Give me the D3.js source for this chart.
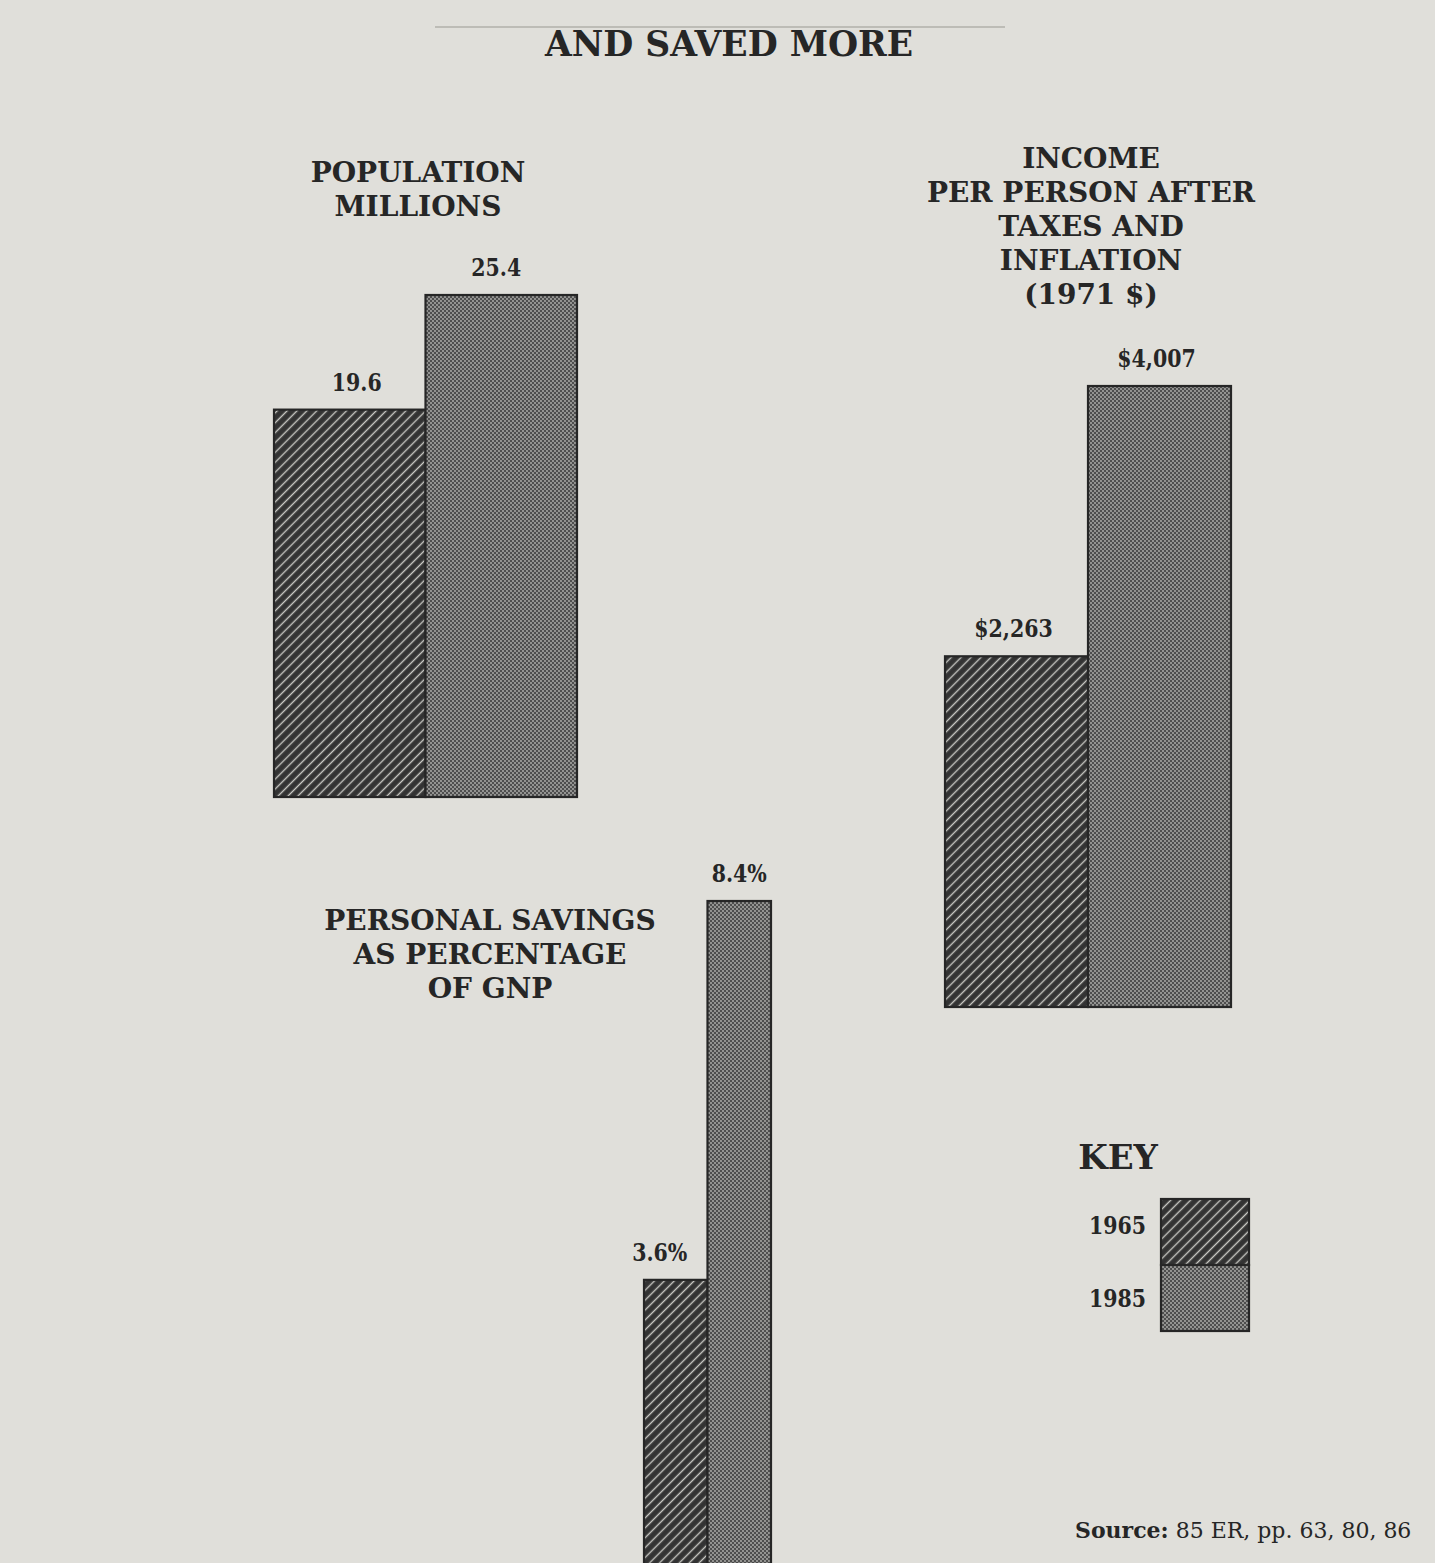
<!DOCTYPE html>
<html>
<head>
<meta charset="utf-8">
<script src="https://cdn.jsdelivr.net/npm/d3@7"></script>
<style>
  html, body { margin: 0; padding: 0; background: #e0dfda; }
  svg { display: block; }
  text { font-family: "DejaVu Serif", "Liberation Serif", serif; fill: #262626; }
</style>
</head>
<body>
<svg id="chart" width="1435" height="1563"></svg>
<script>
// Years compared in every panel
const years = ["1965", "1985"];

// Population, millions
const population = [19.6, 25.4];
const populationLabels = ["19.6", "25.4"];

// Income per person after taxes and inflation, 1971 dollars
const income = [2263, 4007];
const incomeLabels = ["$2,263", "$4,007"];

// Personal savings as a percentage of GNP
const savings = [3.6, 8.4];
const savingsLabels = ["3.6%", "8.4%"];

// Panel titles
const populationTitle = ["POPULATION", "MILLIONS"];
const incomeTitle = ["INCOME", "PER PERSON AFTER", "TAXES AND", "INFLATION", "(1971 $)"];
const savingsTitle = ["PERSONAL SAVINGS", "AS PERCENTAGE", "OF GNP"];

const svg = d3.select("#chart");
const ink = "#262626";

// Fill patterns: dark diagonal hatch for 1965, dot screen for 1985
const defs = svg.append("defs");
const hatch = defs.append("pattern")
  .attr("id", "hatch").attr("patternUnits", "userSpaceOnUse")
  .attr("width", 7).attr("height", 7)
  .attr("patternTransform", "rotate(45)");
hatch.append("rect").attr("width", 7).attr("height", 7).attr("fill", "#333");
hatch.append("line").attr("x1", 3.5).attr("x2", 3.5).attr("y1", 0).attr("y2", 7)
  .attr("stroke", "#c9c9c4").attr("stroke-width", 1.4);

const dots = defs.append("pattern")
  .attr("id", "dots").attr("patternUnits", "userSpaceOnUse")
  .attr("width", 4).attr("height", 4);
dots.append("rect").attr("width", 4).attr("height", 4).attr("fill", "#4e4e4e");
dots.append("circle").attr("cx", 1).attr("cy", 1).attr("r", 0.9).attr("fill", "#b4b4b0");
dots.append("circle").attr("cx", 3).attr("cy", 3).attr("r", 0.9).attr("fill", "#b4b4b0");

const fills = { "1965": "url(#hatch)", "1985": "url(#dots)" };

// Narrow a bold label so its figures keep the tall, compact look of the type
function condense(sel, factor) {
  sel.each(function () {
    const w = this.getComputedTextLength();
    d3.select(this).attr("textLength", w * factor).attr("lengthAdjust", "spacingAndGlyphs");
  });
}

// Heading
svg.append("line").attr("x1", 435).attr("x2", 1005).attr("y1", 27).attr("y2", 27)
  .attr("stroke", "#bdbcb6").attr("stroke-width", 2);
svg.append("text").attr("x", 729).attr("y", 56).attr("text-anchor", "middle")
  .attr("font-weight", "bold").attr("font-size", 36).text("AND SAVED MORE")
  .call(condense, 0.96);

function titleBlock(lines, cx, firstBaseline, step, size) {
  svg.append("g").selectAll("text").data(lines).join("text")
    .attr("x", cx).attr("y", (d, i) => firstBaseline + i * step)
    .attr("text-anchor", "middle").attr("font-weight", "bold")
    .attr("font-size", size).text(d => d);
}

function panel(values, labels, layout) {
  const data = years.map((y, i) => ({ year: y, value: values[i], label: labels[i] }));
  const x = d3.scaleBand().domain(years).range([layout.left, layout.right]).padding(0);
  const y = d3.scaleLinear().domain([0, d3.max(values)]).range([layout.base, layout.top]);
  const g = svg.append("g");
  g.selectAll("rect").data(data).join("rect")
    .attr("x", d => x(d.year))
    .attr("y", d => y(d.value))
    .attr("width", x.bandwidth())
    .attr("height", d => y(0) - y(d.value))
    .attr("fill", d => fills[d.year])
    .attr("stroke", ink).attr("stroke-width", 2.2);
  g.selectAll("text").data(data).join("text")
    .attr("x", (d, i) => x(d.year) + x.bandwidth() / 2 + (layout.labelDx ? layout.labelDx[i] : 0))
    .attr("y", d => y(d.value) - 19)
    .attr("text-anchor", "middle").attr("font-weight", "bold")
    .attr("font-size", 25).text(d => d.label)
    .call(condense, 0.82);
}

// Population
titleBlock(populationTitle, 418, 182, 34, 28);
panel(population, populationLabels, { left: 274, right: 577, base: 797, top: 295, labelDx: [7, -5] });

// Income
titleBlock(incomeTitle, 1091, 168, 34, 28);
panel(income, incomeLabels, { left: 945, right: 1231, base: 1007, top: 386, labelDx: [-3, -3] });

// Savings
titleBlock(savingsTitle, 490, 930, 34, 28);
panel(savings, savingsLabels, { left: 644, right: 771, base: 1564, top: 901, labelDx: [-16, 0] });

// Key
svg.append("text").attr("x", 1118).attr("y", 1169).attr("text-anchor", "middle")
  .attr("font-weight", "bold").attr("font-size", 34).text("KEY");
const keyY = d3.scaleBand().domain(years).range([1199, 1331]).padding(0);
const key = svg.append("g");
key.selectAll("rect").data(years).join("rect")
  .attr("x", 1161).attr("y", d => keyY(d))
  .attr("width", 88).attr("height", keyY.bandwidth())
  .attr("fill", d => fills[d]).attr("stroke", ink).attr("stroke-width", 2.2);
key.selectAll("text").data(years).join("text")
  .attr("x", 1146).attr("y", d => keyY(d) + keyY.bandwidth() / 2 + 9 + (d === "1985" ? 0 : -7))
  .attr("text-anchor", "end").attr("font-weight", "bold").attr("font-size", 25).text(d => d)
  .call(condense, 0.82);

// Source line
const src = svg.append("text").attr("x", 1075).attr("y", 1538).attr("font-size", 22);
src.append("tspan").attr("font-weight", "bold").text("Source:");
src.append("tspan").text(" 85 ER, pp. 63, 80, 86");
</script>
</body>
</html>
